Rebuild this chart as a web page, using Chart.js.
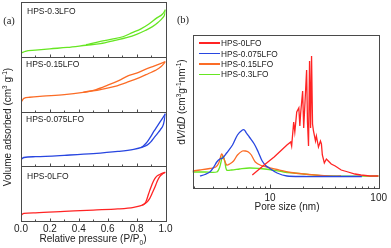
<!DOCTYPE html>
<html>
<head>
<meta charset="utf-8">
<script src="https://cdn.jsdelivr.net/npm/chart.js@4.4.1/dist/chart.umd.min.js"></script>
<style>
html, body { margin: 0; padding: 0; background: #fff; }
body { width: 391px; height: 248px; position: relative; overflow: hidden;
       font-family: "Liberation Sans", Arial, sans-serif; color: #222; }
canvas { position: absolute; top: 0; }
#isoChart { left: 0; }
#psdChart { left: 175px; }
.txt { position: absolute; white-space: nowrap; line-height: 1; }
.mid { transform: translate(-50%, -50%); }
.rot { transform: translate(-50%, -50%) rotate(-90deg); }
.panel-lbl { font-size: 8.5px; transform: translateY(-50%); }
.tag { font-family: "Liberation Serif", "Times New Roman", serif; font-size: 10.5px; }
.axis-title { font-size: 10px; }
sup, sub { font-size: 65%; line-height: 0; }
#legend { position: absolute; left: 199px; top: 38px; font-size: 8.3px; }
#legend .row { display: flex; align-items: center; height: 10.4px; }
#legend .swatch { width: 21px; height: 1.5px; margin-right: 1px; }
</style>
</head>
<body>
<canvas id="isoChart" width="180" height="248"></canvas>
<canvas id="psdChart" width="216" height="248"></canvas>

<div class="txt tag mid" style="left:9px; top:21px;">(a)</div>
<div class="txt tag mid" style="left:183px; top:20px;">(b)</div>

<div class="txt panel-lbl" style="left:27px; top:11px;">HPS-0.3LFO</div>
<div class="txt panel-lbl" style="left:26px; top:64px;">HPS-0.15LFO</div>
<div class="txt panel-lbl" style="left:26px; top:119px;">HPS-0.075LFO</div>
<div class="txt panel-lbl" style="left:27px; top:176px;">HPS-0LFO</div>

<div class="txt axis-title rot" style="left:8px; top:127px;">Volume adsorbed (cm<sup>3</sup> g<sup>-1</sup>)</div>
<div class="txt axis-title mid" style="left:93px; top:239px;">Relative pressure (P/P<sub>0</sub>)</div>
<div class="txt axis-title rot" style="left:182px; top:102px;">d<i>V</i>/d<i>D</i> (cm<sup>3</sup>g<sup>-1</sup>nm<sup>-1</sup>)</div>
<div class="txt axis-title mid" style="left:287px; top:207px;">Pore size (nm)</div>

<div id="legend"></div>

<script>
// --- isotherm data (a), each panel read as 0-100 of its own height ---
const SAMPLES = ["HPS-0LFO", "HPS-0.075LFO", "HPS-0.15LFO", "HPS-0.3LFO"];
const COLORS = ["#ff2424", "#2846e0", "#fb6c26", "#66e622"];

const P_TICKS = [0, 0.2, 0.4, 0.6, 0.8, 1.0];
const P_MINOR = [0.1, 0.3, 0.5, 0.7, 0.9];

const ads0P = [0.003, 0.02, 0.1, 0.3, 0.5, 0.67, 0.78, 0.84, 0.87, 0.89, 0.91, 0.93, 0.945, 0.96, 0.975, 0.99, 1.0];
const ads0V = [11, 14, 15, 17.5, 20, 22, 25, 29, 34, 41, 52, 64, 74, 81, 85, 88, 89];
const des0P = [0.84, 0.86, 0.87, 0.88, 0.89, 0.9, 0.91, 0.925, 0.94, 0.96, 0.98, 1.0];
const des0V = [29, 33, 39, 47, 55, 62, 69, 77, 82, 85, 87.5, 89];

const ads1P = [0.003, 0.02, 0.1, 0.3, 0.5, 0.67, 0.78, 0.84, 0.875, 0.9, 0.92, 0.945, 0.965, 0.985, 1.0];
const ads1V = [13, 16, 17.5, 20, 23, 27, 31, 35, 39, 45, 52, 60, 67, 76, 96];
const des1P = [0.83, 0.85, 0.875, 0.9, 0.92, 0.94, 0.96, 0.98, 1.0];
const des1V = [34, 38, 45, 55, 64, 72, 80, 88, 96];

const ads2P = [0.003, 0.02, 0.06, 0.15, 0.3, 0.43, 0.55, 0.65, 0.74, 0.82, 0.88, 0.93, 0.97, 1.0];
const ads2V = [18, 24, 26, 28, 31, 35, 40, 46, 54, 62, 69, 75, 82, 91];
const des2P = [0.43, 0.52, 0.6, 0.68, 0.74, 0.8, 0.86, 0.92, 0.97, 1.0];
const des2V = [35, 40, 48, 57, 65, 70, 77, 83, 88, 91];

const ads3P = [0.003, 0.03, 0.1, 0.2, 0.32, 0.45, 0.55, 0.65, 0.73, 0.8, 0.86, 0.91, 0.95, 0.98, 0.995, 1.0];
const ads3V = [7, 10, 12, 14.5, 17, 21, 24, 30, 35, 41, 48, 55, 63, 71, 78, 86];
const des3P = [0.45, 0.55, 0.63, 0.71, 0.77, 0.83, 0.88, 0.94, 0.98, 1.0];
const des3V = [22, 28, 32, 37, 44, 51, 59, 71, 78, 86];

// --- pore size distribution (b), arbitrary units ---
const LOG_TICKS = [10, 100];
const LOG_MINOR = [2, 3, 4, 5, 6, 7, 8, 9, 20, 30, 40, 50, 60, 70, 80, 90];

const psd0X = [6.86, 8.82, 10.9, 14.3, 15.5, 15.8, 16.5, 16.9, 17.6, 18.4, 18.8, 19.1, 19.95, 20.4, 20.8, 21.7,
               22.1, 22.6, 23.1, 23.6, 24.1, 24.6, 25.1, 26.2, 26.7, 27.9, 29.1, 29.7, 30.3, 31.6, 33.0, 34.4,
               36.6, 39.8, 45.2, 52.3, 60.5, 68.6, 82.8, 100];
const psd0Y = [13, 23, 31, 43, 46, 42, 66, 56, 76, 80, 62, 74, 97, 60, 78, 118,
               66, 42, 127, 60, 132, 64, 57, 47, 52, 41, 47, 44, 33, 25, 29, 27,
               24, 22, 18, 16, 14, 13, 12, 12];

const psd1X = [2.26, 2.51, 2.79, 3.03, 3.23, 3.44, 3.66, 3.98, 4.51, 5.01, 5.56, 5.8, 6.05, 6.44, 7.15, 7.78,
               8.46, 9.2, 9.79, 11.6, 14.3, 20.4, 34.4, 70];
const psd1Y = [12, 13.5, 16, 21, 26, 29, 30, 35, 43, 53, 58, 58, 55, 51, 44, 36,
               27, 22, 20, 15, 12, 11.5, 11.5, 11.5];

const psd2X = [1.93, 2.26, 2.79, 3.16, 3.37, 3.58, 3.74, 3.98, 4.24, 4.61, 5.01, 5.56, 5.93, 6.31, 6.72, 7.31,
               8.28, 9.39, 11.6, 15.5, 20.4, 34.4, 45];
const psd2Y = [17, 18, 19.5, 21, 25, 34, 30, 23, 24, 27, 33, 37, 37, 36, 33, 26,
               22.5, 21, 18.5, 15.5, 14, 12, 12];

const psd3X = [1.93, 2.51, 3.23, 3.44, 3.66, 3.82, 3.98, 4.42, 5.23, 6.44, 7.94, 9.79, 13.4, 20.4, 34.4, 100];
const psd3Y = [16, 16, 16, 21, 32, 27, 18, 18, 19, 20, 19.5, 18.5, 16, 14, 12, 12];

const TICK_FONT = { family: "'Liberation Sans', Arial, sans-serif", size: 10 };
const FRAME_COLOR = "#4a4a4a";

function pts(xs, ys) {
    return xs.map((x, i) => ({ x: x, y: ys[i] }));
}

// frame and inward ticks, the original has them on every sub-panel
const framePlugin = {
    id: 'frame',
    afterDraw(chart, args, opts) {
        const ctx = chart.ctx;
        const area = chart.chartArea;
        const xs = chart.scales.x;
        const left = Math.round(area.left) + 0.5;
        const right = Math.round(area.right) + 0.5;
        ctx.save();
        ctx.strokeStyle = FRAME_COLOR;
        ctx.lineWidth = 1;
        opts.panels.forEach(id => {
            const s = chart.scales[id];
            const top = Math.round(s.top) + 0.5;
            const bot = Math.round(s.bottom) + 0.5;
            ctx.strokeRect(left, top, right - left, bot - top);
            ctx.beginPath();
            opts.major.forEach(v => {
                const px = Math.round(xs.getPixelForValue(v)) + 0.5;
                ctx.moveTo(px, bot); ctx.lineTo(px, bot - opts.majorLen);
            });
            opts.minor.forEach(v => {
                const px = Math.round(xs.getPixelForValue(v)) + 0.5;
                ctx.moveTo(px, bot); ctx.lineTo(px, bot - opts.minorLen);
            });
            ctx.stroke();
        });
        ctx.restore();
    }
};

function panelAxis() {
    return {
        type: 'linear', axis: 'y', position: 'left', stack: 'iso', stackWeight: 1,
        min: 0, max: 100,
        ticks: { display: false }, grid: { display: false, drawTicks: false }, border: { display: false },
        afterFit: s => { s.width = 0; }
    };
}

// --- (a) isotherms ---
const isoSets = [];
const adsP = [ads0P, ads1P, ads2P, ads3P], adsV = [ads0V, ads1V, ads2V, ads3V];
const desP = [des0P, des1P, des2P, des3P], desV = [des0V, des1V, des2V, des3V];
SAMPLES.forEach((name, i) => {
    [[adsP[i], adsV[i]], [desP[i], desV[i]]].forEach(([px, py]) => {
        isoSets.push({
            label: name, data: pts(px, py), yAxisID: 'y' + i,
            borderColor: COLORS[i], borderWidth: 1.3, pointRadius: 0,
            cubicInterpolationMode: 'monotone', fill: false
        });
    });
});

// stacked y axes: the first one declared ends up at the bottom
new Chart(document.getElementById('isoChart'), {
    type: 'line',
    data: { datasets: isoSets },
    options: {
        responsive: false, animation: false, devicePixelRatio: 1,
        layout: { padding: { left: 21, right: 14.5, top: 2, bottom: 0 } },
        plugins: {
            legend: { display: false }, tooltip: { enabled: false },
            frame: { panels: ['y3', 'y2', 'y1', 'y0'], major: P_TICKS, minor: P_MINOR, majorLen: 3, minorLen: 2 }
        },
        scales: {
            x: {
                type: 'linear', min: 0, max: 1,
                afterBuildTicks: s => { s.ticks = P_TICKS.map(v => ({ value: v })); },
                afterFit: s => { s.height = 27; },
                grid: { display: false, drawTicks: false }, border: { display: false },
                ticks: { padding: 2, font: TICK_FONT, color: '#222', autoSkip: false, maxRotation: 0,
                         callback: v => Number(v).toFixed(1) }
            },
            y0: panelAxis(),
            y1: panelAxis(),
            y2: panelAxis(),
            y3: panelAxis()
        }
    },
    plugins: [framePlugin]
});

// --- (b) pore size distribution ---
const psdX = [psd0X, psd1X, psd2X, psd3X], psdY = [psd0Y, psd1Y, psd2Y, psd3Y];
const psdSets = SAMPLES.map((name, i) => ({
    label: name, data: pts(psdX[i], psdY[i]),
    borderColor: COLORS[i], backgroundColor: COLORS[i], borderWidth: 1.3, pointRadius: 0,
    tension: i === 0 ? 0 : 0.3, fill: false
}));

const psdChart = new Chart(document.getElementById('psdChart'), {
    type: 'line',
    data: { datasets: psdSets },
    options: {
        responsive: false, animation: false, devicePixelRatio: 1,
        layout: { padding: { left: 17.5, right: 10, top: 35, bottom: 0 } },
        plugins: {
            legend: { display: false }, tooltip: { enabled: false },
            frame: { panels: ['y'], major: LOG_TICKS, minor: LOG_MINOR, majorLen: 4, minorLen: 2 }
        },
        scales: {
            x: {
                type: 'logarithmic', min: 1.93, max: 100,
                afterBuildTicks: s => { s.ticks = LOG_TICKS.map(v => ({ value: v })); },
                afterFit: s => { s.height = 60; },
                grid: { display: false, drawTicks: false }, border: { display: false },
                ticks: { padding: 4, font: TICK_FONT, color: '#222', autoSkip: false, maxRotation: 0,
                         callback: v => String(v) }
            },
            y: {
                type: 'linear', min: 0, max: 153,
                ticks: { display: false }, grid: { display: false, drawTicks: false }, border: { display: false },
                afterFit: s => { s.width = 0; }
            }
        }
    },
    plugins: [framePlugin]
});

// legend as html, built from the datasets
const legendEl = document.getElementById('legend');
psdChart.data.datasets.forEach(ds => {
    const row = document.createElement('div');
    row.className = 'row';
    row.innerHTML = `<span class="swatch" style="background:${ds.borderColor}"></span><span>${ds.label}</span>`;
    legendEl.appendChild(row);
});
</script>
</body>
</html>
